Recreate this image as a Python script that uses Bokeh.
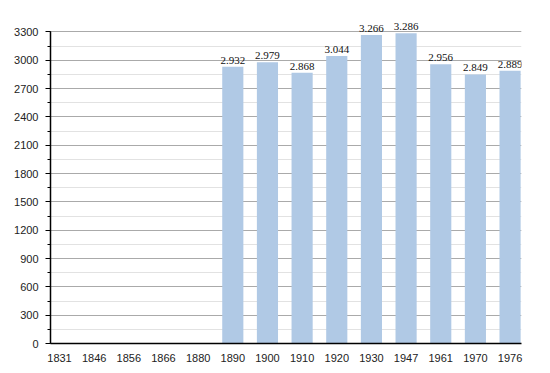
from bokeh.plotting import figure
from bokeh.models import ColumnDataSource, FixedTicker, Range1d, LabelSet
from bokeh.embed import file_html
from bokeh.resources import INLINE

years = ["1831", "1846", "1856", "1866", "1880", "1890", "1900", "1910",
         "1920", "1930", "1947", "1961", "1970", "1976"]
population = [None, None, None, None, None, 2932, 2979, 2868, 3044, 3266,
              3286, 2956, 2849, 2889]
y_ticks = list(range(0, 3301, 300))

xs, tops, labels = [], [], []
for i, v in enumerate(population):
    if v is not None:
        xs.append(i)
        tops.append(v)
        labels.append(f"{v:,}".replace(",", "."))
src = ColumnDataSource(dict(x=xs, top=tops, label=labels))

p = figure(width=550, height=373, output_backend="svg", toolbar_location=None,
           x_range=Range1d(-0.26, len(years) - 1 + 0.33),
           y_range=Range1d(0, 3410),
           min_border_left=50, min_border_right=29, min_border_top=21,
           min_border_bottom=30)
p.outline_line_color = None
p.background_fill_color = "white"

p.vbar(x="x", top="top", width=0.61, source=src, fill_color="#b0c9e5",
       line_color=None)

lbl = LabelSet(x="x", y="top", text="label", source=src, text_align="center",
               text_baseline="bottom", y_offset=3, text_font_size="11px",
               text_font="Liberation Sans", text_color="#111111")
p.add_layout(lbl)

# x axis
p.xaxis.ticker = FixedTicker(ticks=list(range(len(years))))
p.xaxis.major_label_overrides = {i: y for i, y in enumerate(years)}
p.xaxis.major_tick_line_color = None
p.xaxis.minor_tick_line_color = None
p.xaxis.major_label_standoff = 4
p.xaxis.axis_line_color = "black"
p.xaxis.axis_line_width = 1.5
p.xaxis.major_label_text_font = "Liberation Sans"
p.xaxis.major_label_text_font_size = "11px"
p.xaxis.major_label_text_color = "#222222"
p.xgrid.grid_line_color = None

# y axis
p.yaxis.ticker = FixedTicker(ticks=y_ticks,
                             minor_ticks=list(range(0, 3301, 150)))
p.yaxis.bounds = (0, 3300)
p.yaxis.axis_line_color = "black"
p.yaxis.axis_line_width = 1.5
p.yaxis.major_tick_in = 0
p.yaxis.major_tick_out = 5
p.yaxis.minor_tick_in = 0
p.yaxis.minor_tick_out = 3
p.yaxis.major_tick_line_color = "black"
p.yaxis.minor_tick_line_color = "black"
p.yaxis.major_label_standoff = 7
p.yaxis.major_label_text_font = "Liberation Sans"
p.yaxis.major_label_text_font_size = "11px"
p.yaxis.major_label_text_color = "#222222"
p.ygrid.grid_line_color = "#aaaaaa"
p.ygrid.minor_grid_line_color = "#e2e2e2"
p.ygrid.bounds = (0, 3300)

open("out.html", "w").write(file_html(p, INLINE))
